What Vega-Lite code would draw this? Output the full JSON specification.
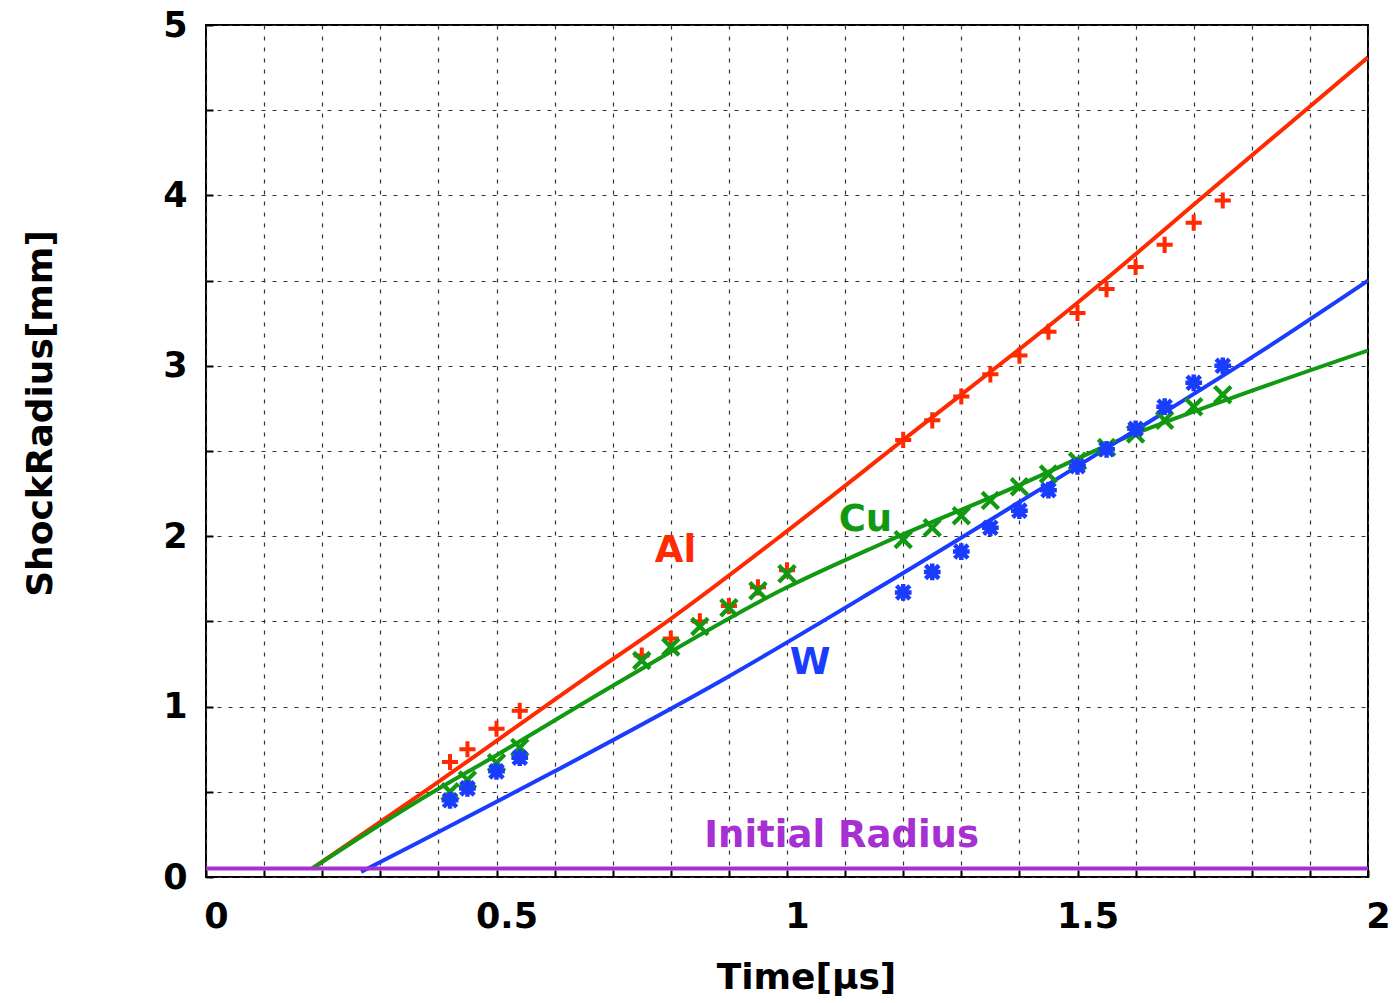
{
  "$schema": "https://vega.github.io/schema/vega-lite/v6.json",
  "width": 1162,
  "height": 852,
  "autosize": "none",
  "padding": {"left": 206, "top": 25, "right": 30, "bottom": 126},
  "background": "white",
  "config": {
    "view": {"stroke": "black", "strokeWidth": 2},
    "font": "DejaVu Sans",
    "axis": {
      "domain": false,
      "labelFont": "DejaVu Sans",
      "labelFontWeight": "bold",
      "labelFontSize": 35,
      "labelColor": "black",
      "titleFont": "DejaVu Sans",
      "titleFontWeight": "bold",
      "titleFontSize": 36,
      "titleColor": "black",
      "grid": true,
      "gridColor": "#333333",
      "gridDash": [4, 7],
      "gridWidth": 1.2,
      "tickColor": "black",
      "tickSize": -7,
      "tickWidth": 2
    }
  },
  "datasets": {
    "lines": [
      {"series": "Al", "t": 0.183, "r": 0.05},
      {"series": "Al", "t": 0.367, "r": 0.48},
      {"series": "Al", "t": 0.648, "r": 1.156},
      {"series": "Al", "t": 0.797, "r": 1.508},
      {"series": "Al", "t": 1.0, "r": 2.03},
      {"series": "Al", "t": 1.2, "r": 2.565},
      {"series": "Al", "t": 1.5, "r": 3.37},
      {"series": "Al", "t": 1.75, "r": 4.09},
      {"series": "Al", "t": 2.0, "r": 4.81},
      {"series": "Cu", "t": 0.183, "r": 0.05},
      {"series": "Cu", "t": 0.367, "r": 0.45},
      {"series": "Cu", "t": 0.5, "r": 0.715},
      {"series": "Cu", "t": 0.717, "r": 1.156},
      {"series": "Cu", "t": 1.0, "r": 1.70},
      {"series": "Cu", "t": 1.159, "r": 1.95},
      {"series": "Cu", "t": 1.4, "r": 2.30},
      {"series": "Cu", "t": 1.573, "r": 2.565},
      {"series": "Cu", "t": 1.814, "r": 2.87},
      {"series": "Cu", "t": 2.0, "r": 3.09},
      {"series": "W", "t": 0.267, "r": 0.03},
      {"series": "W", "t": 0.367, "r": 0.205},
      {"series": "W", "t": 0.6, "r": 0.62},
      {"series": "W", "t": 0.889, "r": 1.156},
      {"series": "W", "t": 1.159, "r": 1.70},
      {"series": "W", "t": 1.573, "r": 2.565},
      {"series": "W", "t": 1.814, "r": 3.08},
      {"series": "W", "t": 2.0, "r": 3.50},
      {"series": "Initial", "t": 0.0, "r": 0.05},
      {"series": "Initial", "t": 2.0, "r": 0.05}
    ],
    "points": [
      {"series": "Al", "t": 0.42, "r": 0.675},
      {"series": "Al", "t": 0.45, "r": 0.75},
      {"series": "Al", "t": 0.5, "r": 0.87},
      {"series": "Al", "t": 0.54, "r": 0.975},
      {"series": "Al", "t": 0.75, "r": 1.30},
      {"series": "Al", "t": 0.8, "r": 1.40},
      {"series": "Al", "t": 0.85, "r": 1.50},
      {"series": "Al", "t": 0.9, "r": 1.59},
      {"series": "Al", "t": 0.95, "r": 1.70},
      {"series": "Al", "t": 1.0, "r": 1.80},
      {"series": "Al", "t": 1.2, "r": 2.565},
      {"series": "Al", "t": 1.25, "r": 2.68},
      {"series": "Al", "t": 1.3, "r": 2.82},
      {"series": "Al", "t": 1.35, "r": 2.95},
      {"series": "Al", "t": 1.4, "r": 3.06},
      {"series": "Al", "t": 1.45, "r": 3.20},
      {"series": "Al", "t": 1.5, "r": 3.31},
      {"series": "Al", "t": 1.55, "r": 3.45},
      {"series": "Al", "t": 1.6, "r": 3.58},
      {"series": "Al", "t": 1.65, "r": 3.71},
      {"series": "Al", "t": 1.7, "r": 3.84},
      {"series": "Al", "t": 1.75, "r": 3.97},
      {"series": "Cu", "t": 0.42, "r": 0.50},
      {"series": "Cu", "t": 0.45, "r": 0.57},
      {"series": "Cu", "t": 0.5, "r": 0.67},
      {"series": "Cu", "t": 0.54, "r": 0.76},
      {"series": "Cu", "t": 0.75, "r": 1.27},
      {"series": "Cu", "t": 0.8, "r": 1.35},
      {"series": "Cu", "t": 0.85, "r": 1.47},
      {"series": "Cu", "t": 0.9, "r": 1.58},
      {"series": "Cu", "t": 0.95, "r": 1.68},
      {"series": "Cu", "t": 1.0, "r": 1.78},
      {"series": "Cu", "t": 1.2, "r": 1.98},
      {"series": "Cu", "t": 1.25, "r": 2.05},
      {"series": "Cu", "t": 1.3, "r": 2.12},
      {"series": "Cu", "t": 1.35, "r": 2.21},
      {"series": "Cu", "t": 1.4, "r": 2.29},
      {"series": "Cu", "t": 1.45, "r": 2.365},
      {"series": "Cu", "t": 1.5, "r": 2.44},
      {"series": "Cu", "t": 1.55, "r": 2.52},
      {"series": "Cu", "t": 1.6, "r": 2.60},
      {"series": "Cu", "t": 1.65, "r": 2.68},
      {"series": "Cu", "t": 1.7, "r": 2.76},
      {"series": "Cu", "t": 1.75, "r": 2.83},
      {"series": "W", "t": 0.42, "r": 0.45},
      {"series": "W", "t": 0.45, "r": 0.52},
      {"series": "W", "t": 0.5, "r": 0.62},
      {"series": "W", "t": 0.54, "r": 0.70},
      {"series": "W", "t": 1.2, "r": 1.67},
      {"series": "W", "t": 1.25, "r": 1.79},
      {"series": "W", "t": 1.3, "r": 1.91},
      {"series": "W", "t": 1.35, "r": 2.05},
      {"series": "W", "t": 1.4, "r": 2.15},
      {"series": "W", "t": 1.45, "r": 2.27},
      {"series": "W", "t": 1.5, "r": 2.41},
      {"series": "W", "t": 1.55, "r": 2.51},
      {"series": "W", "t": 1.6, "r": 2.63},
      {"series": "W", "t": 1.65, "r": 2.76},
      {"series": "W", "t": 1.7, "r": 2.90},
      {"series": "W", "t": 1.75, "r": 3.00}
    ],
    "labels": [
      {"series": "Al", "text": "Al", "t": 0.808, "r": 1.916},
      {"series": "Cu", "text": "Cu", "t": 1.135, "r": 2.098},
      {"series": "W", "text": "W", "t": 1.04, "r": 1.253},
      {"series": "Initial", "text": "Initial Radius", "t": 1.094, "r": 0.238}
    ]
  },
  "encoding": {
    "x": {
      "field": "t", "type": "quantitative",
      "scale": {"domain": [0, 2], "nice": false, "zero": false},
      "axis": {
        "title": "Time[μs]",
        "values": [0, 0.1, 0.2, 0.3, 0.4, 0.5, 0.6, 0.7, 0.8, 0.9, 1, 1.1, 1.2, 1.3, 1.4, 1.5, 1.6, 1.7, 1.8, 1.9, 2],
        "labelExpr": "datum.value * 2 == round(datum.value * 2) ? format(datum.value, '~g') : ''",
        "labelPadding": 29,
        "labelOffset": 10,
        "labelFlush": false,
        "labelOverlap": false,
        "titlePadding": 26,
        "titleX": 600
      }
    },
    "y": {
      "field": "r", "type": "quantitative",
      "scale": {"domain": [0, 5], "nice": false, "zero": false},
      "axis": {
        "title": "ShockRadius[mm]",
        "values": [0, 0.5, 1, 1.5, 2, 2.5, 3, 3.5, 4, 4.5, 5],
        "labelExpr": "datum.value == round(datum.value) ? format(datum.value, 'd') : ''",
        "labelPadding": 26,
        "labelFlush": false,
        "titlePadding": 103,
        "titleY": 388
      }
    },
    "color": {
      "field": "series", "type": "nominal",
      "scale": {"domain": ["Al", "Cu", "W", "Initial"], "range": ["#ff2a00", "#129912", "#1a3cff", "#a630d2"]},
      "legend": null
    }
  },
  "layer": [
    {
      "data": {"name": "lines"},
      "mark": {"type": "line", "strokeWidth": 4, "clip": true, "interpolate": "monotone"}
    },
    {
      "data": {"name": "points"},
      "mark": {"type": "point", "filled": false, "opacity": 1},
      "encoding": {
        "shape": {
          "field": "series", "type": "nominal",
          "scale": {
            "domain": ["Al", "Cu", "W"],
            "range": [
              "M-1,0L1,0M0,-1L0,1",
              "M-1,-1L1,1M-1,1L1,-1",
              "M-1,0L1,0M0,-1L0,1M-0.8,-0.8L0.8,0.8M-0.8,0.8L0.8,-0.8"
            ]
          },
          "legend": null
        },
        "strokeWidth": {
          "field": "series", "type": "nominal",
          "scale": {"domain": ["Al", "Cu", "W"], "range": [4, 4.5, 1.8]},
          "legend": null
        },
        "size": {
          "field": "series", "type": "nominal",
          "scale": {"domain": ["Al", "Cu", "W"], "range": [260, 280, 420]},
          "legend": null
        }
      }
    },
    {
      "data": {"name": "labels"},
      "mark": {"type": "text", "fontSize": 37, "fontWeight": "bold", "font": "DejaVu Sans", "align": "center", "baseline": "middle"},
      "encoding": {
        "text": {"field": "text"}
      }
    }
  ]
}
